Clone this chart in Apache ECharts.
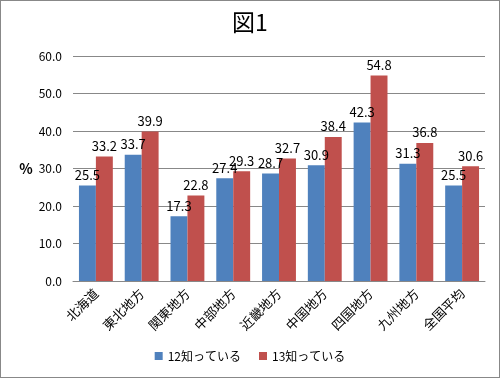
<!DOCTYPE html>
<html>
<head>
<meta charset="utf-8">
<script src="https://cdn.jsdelivr.net/npm/echarts@6/dist/echarts.min.js"></script>
<style>
html, body { margin: 0; padding: 0; background: #fff; }
#chart { width: 498px; height: 376px; border: 1px solid #888; }
</style>
</head>
<body>
<div id="chart"></div>
<script>
var regions = ['北海道', '東北地方', '関東地方', '中部地方', '近畿地方', '中国地方', '四国地方', '九州地方', '全国平均'];
var known12 = [25.5, 33.7, 17.3, 27.4, 28.7, 30.9, 42.3, 31.3, 25.5];
var known13 = [33.2, 39.9, 22.8, 29.3, 32.7, 38.4, 54.8, 36.8, 30.6];
var seriesNames = ['12知っている', '13知っている'];

var font = '"Noto Sans CJK JP", sans-serif';
var myChart = echarts.init(document.getElementById('chart'));

var labelStyle = {
    show: true,
    position: 'top',
    color: '#000',
    fontSize: 13,
    fontFamily: font,
    distance: 4,
    formatter: function (p) { return p.value.toFixed(1); }
};

var option = {
    animation: false,
    title: {
        text: '図1',
        left: 'center',
        top: 5,
        textStyle: { fontSize: 23, fontWeight: 'normal', color: '#000', fontFamily: font }
    },
    legend: {
        bottom: 10,
        left: 'center',
        itemWidth: 8,
        itemHeight: 8,
        itemGap: 18,
        icon: 'rect',
        textStyle: { fontSize: 12, color: '#000', fontFamily: font },
        data: seriesNames
    },
    grid: {
        left: 72,
        right: 14,
        top: 55,
        bottom: 96
    },
    xAxis: {
        type: 'category',
        data: regions,
        axisLine: { lineStyle: { color: '#888' } },
        axisTick: { show: false },
        axisLabel: {
            rotate: 45,
            color: '#000',
            fontSize: 13,
            fontFamily: font,
            interval: 0,
            margin: 10
        }
    },
    yAxis: {
        type: 'value',
        min: 0,
        max: 60,
        interval: 10,
        name: '%',
        nameLocation: 'middle',
        nameRotate: 0,
        nameGap: 40,
        nameTextStyle: { fontSize: 14, fontWeight: 'bold', color: '#000', fontFamily: font },
        axisLine: { show: false },
        axisTick: { show: false },
        splitLine: { lineStyle: { color: '#888' } },
        axisLabel: {
            color: '#000',
            fontSize: 12,
            fontFamily: font,
            margin: 11,
            formatter: function (v) { return v.toFixed(1); }
        }
    },
    series: [{
        name: seriesNames[0],
        type: 'bar',
        data: known12,
        barGap: '0%',
        barCategoryGap: '26%',
        itemStyle: { color: '#4F81BD' },
        label: labelStyle
    }, {
        name: seriesNames[1],
        type: 'bar',
        data: known13,
        itemStyle: { color: '#C0504D' },
        label: labelStyle
    }]
};

myChart.setOption(option);
</script>
</body>
</html>
